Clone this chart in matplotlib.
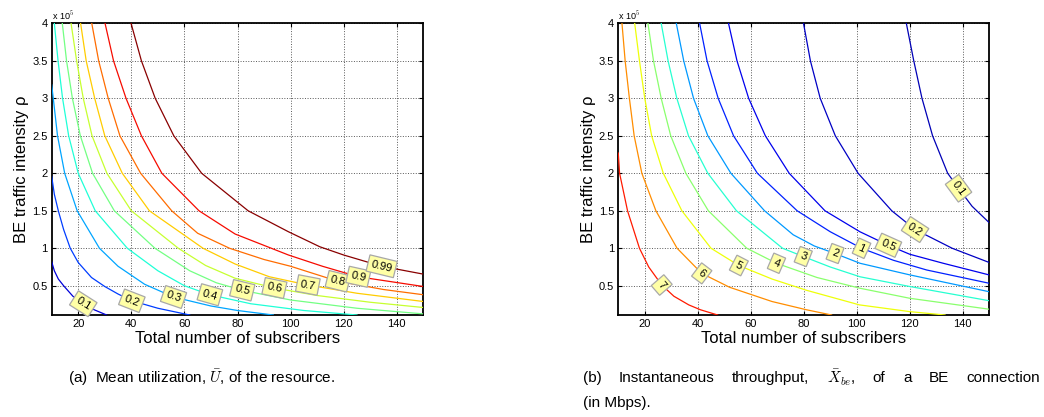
import numpy as np
import matplotlib
matplotlib.use('Agg')
import matplotlib.pyplot as plt
from matplotlib.colors import Normalize

plt.rcParams['font.family'] = ['Liberation Sans', 'DejaVu Sans']
plt.rcParams['mathtext.fontset'] = 'cm'

# (a) mean utilization, contour lines (y in units of 1e5)
util_levels = [0.1, 0.2, 0.3, 0.4, 0.5, 0.6, 0.7, 0.8, 0.9, 0.99]
u_010 = [(10, 0.82), (11, 0.70), (12.5, 0.59), (14.5, 0.50), (18, 0.36), (21.9, 0.26), (26, 0.18), (30.7, 0.11)]
u_020 = [(10, 1.96), (11, 1.72), (12.5, 1.50), (14.5, 1.25), (17, 1.0), (20, 0.81), (25, 0.61), (30, 0.49),
         (35, 0.39), (40.2, 0.30), (50, 0.20), (62, 0.11)]
u_030 = [(10, 3.18), (10.6, 3.0), (12.2, 2.5), (14.9, 2.0), (19.6, 1.5), (28, 1.0), (35, 0.76), (45, 0.52),
         (55.9, 0.35), (70, 0.23), (80, 0.17), (93.5, 0.11)]
u_040 = [(11, 4.0), (12.4, 3.5), (14.1, 3.0), (16.4, 2.5), (20.0, 2.0), (26.4, 1.5), (38.5, 1.0), (50, 0.70),
         (60, 0.50), (69.6, 0.38), (85, 0.26), (105, 0.17), (125, 0.11)]
u_050 = [(14, 4.0), (15.6, 3.5), (17.8, 3.0), (20.8, 2.5), (25.4, 2.0), (33.6, 1.5), (48.9, 1.0), (62, 0.70),
         (72, 0.54), (81.8, 0.44), (100, 0.31), (125, 0.20), (150, 0.125)]
u_060 = [(17.3, 4.0), (19.4, 3.5), (21.9, 3.0), (25.2, 2.5), (30.8, 2.0), (40.0, 1.5), (57.7, 1.0), (68, 0.77),
         (79.1, 0.60), (93.9, 0.47), (110, 0.37), (130, 0.28), (150, 0.21)]
u_070 = [(20.9, 4.0), (23.0, 3.5), (26.2, 3.0), (30.0, 2.5), (36.6, 2.0), (46.8, 1.5), (67, 1.0), (79.1, 0.79),
         (92, 0.62), (106.5, 0.51), (125, 0.40), (150, 0.29)]
u_080 = [(25.1, 4.0), (27.7, 3.5), (31.3, 3.0), (35.7, 2.5), (43.5, 2.0), (55.2, 1.5), (65, 1.2), (77, 1.0),
         (90, 0.85), (100, 0.76), (117.8, 0.56), (135, 0.45), (150, 0.38)]
u_090 = [(30.1, 4.0), (33.3, 3.5), (38.0, 3.0), (43.8, 2.5), (51.5, 2.0), (65.5, 1.5), (79.1, 1.19), (99.2, 0.91),
         (112, 0.76), (125.5, 0.62), (150, 0.49)]
u_099 = [(39.9, 4.0), (43.8, 3.5), (49.0, 3.0), (56.0, 2.5), (66.5, 2.0), (84, 1.5), (99.2, 1.22),
         (111, 1.02), (120, 0.91), (134.3, 0.76), (150, 0.655)]
util_curves = [u_010, u_020, u_030, u_040, u_050, u_060, u_070, u_080, u_090, u_099]
util_label_x = [21.9, 40.2, 55.9, 69.6, 81.8, 93.9, 106.5, 117.8, 125.5, 134.3]

# (b) instantaneous throughput of a BE connection (Mbps)
thr_levels = [7, 6, 5, 4, 3, 2, 1, 0.5, 0.2, 0.1]
t_7 = [(10, 2.27), (10.5, 2.0), (13.5, 1.5), (18, 1.0), (21.5, 0.75), (26.4, 0.51), (31, 0.36), (36.6, 0.245),
       (41, 0.18), (47.5, 0.11)]
t_6 = [(11.4, 4.0), (12.6, 3.5), (14.2, 3.0), (16.0, 2.5), (18.9, 2.0), (24.2, 1.5), (32.2, 1.0), (41.5, 0.665),
       (52, 0.48), (68, 0.29), (81, 0.18), (90.5, 0.11)]
t_5 = [(16.2, 4.0), (18.0, 3.5), (20.0, 3.0), (22.6, 2.5), (27.0, 2.0), (34.0, 1.5), (45, 1.0), (55.5, 0.77),
       (68, 0.59), (81, 0.44), (101, 0.245), (120, 0.155), (133.3, 0.11)]
t_4 = [(21.2, 4.0), (23.3, 3.5), (26.2, 3.0), (29.8, 2.5), (35.5, 2.0), (44.0, 1.5), (58.5, 1.0), (69.7, 0.80),
       (85, 0.61), (101.2, 0.467), (120, 0.333), (150, 0.187)]
t_3 = [(26.2, 4.0), (28.8, 3.5), (32.1, 3.0), (36.5, 2.5), (43.8, 2.0), (54.6, 1.5), (72, 1.0), (79.8, 0.89),
       (90, 0.75), (101.2, 0.62), (120, 0.49), (150, 0.30)]
t_2 = [(31.9, 4.0), (34.7, 3.5), (38.4, 3.0), (43.8, 2.5), (52.5, 2.0), (65.2, 1.5), (76, 1.18), (84, 1.03),
       (91.8, 0.93), (101.2, 0.80), (120, 0.645), (150, 0.42)]
t_1 = [(40.7, 4.0), (43.5, 3.5), (47.7, 3.0), (53.5, 2.5), (62.5, 2.0), (77.5, 1.5), (90, 1.22), (101.8, 1.0),
       (113.8, 0.84), (126.4, 0.71), (150, 0.533)]
t_05 = [(51.6, 4.0), (54.8, 3.5), (59.2, 3.0), (65.5, 2.5), (74.5, 2.0), (88, 1.5), (101.2, 1.22), (111.9, 1.04),
        (120, 0.92), (132.6, 0.80), (150, 0.644)]
t_02 = [(79.9, 4.0), (82.5, 3.5), (86.2, 3.0), (91.9, 2.5), (100.5, 2.0), (113.2, 1.5), (122, 1.25), (136, 1.0),
        (150, 0.81)]
t_01 = [(118.7, 4.0), (121.5, 3.5), (124.6, 3.0), (128.6, 2.5), (134.3, 2.0), (138.4, 1.8), (143.5, 1.56),
        (150, 1.34)]
thr_curves = [t_7, t_6, t_5, t_4, t_3, t_2, t_1, t_05, t_02, t_01]
thr_label_x = [26.4, 41.5, 55.5, 69.7, 79.8, 91.8, 101.8, 111.9, 122, 138.4]

x_ticks = [20, 40, 60, 80, 100, 120, 140]
y_ticks = [0.5, 1, 1.5, 2, 2.5, 3, 3.5, 4]

cap_size = 11


def setup_axes(ax):
    ax.set_xlim(10, 150)
    ax.set_ylim(0.11, 4)
    ax.set_xticks(x_ticks)
    ax.set_yticks(y_ticks)
    ax.set_yticklabels(['%g' % t for t in y_ticks])
    ax.tick_params(direction='in', top=True, right=True, labelsize=8, length=3, width=0.8, pad=3)
    ax.grid(True, linestyle=':', color='0.35', linewidth=0.7)
    for s in ax.spines.values():
        s.set_linewidth(1.3)
    ax.set_xlabel('Total number of subscribers', fontsize=12, labelpad=1)
    ax.set_ylabel('BE traffic intensity ρ', fontsize=12, labelpad=2)
    ax.text(0.0, 1.005, r'x 10$^{\mathsf{5}}$', transform=ax.transAxes, fontsize=6.5, va='bottom', ha='left')


def draw_curves(ax, curves, levels, label_x, norm):
    for pts, lev, lx in zip(curves, levels, label_x):
        xs, ys = np.array(pts, dtype=float).T
        ax.plot(xs, ys, color=plt.cm.jet(norm(lev)), lw=0.9, zorder=3)
        ly = np.interp(lx, xs, ys)
        p1 = ax.transData.transform((lx - 1.0, np.interp(lx - 1.0, xs, ys)))
        p2 = ax.transData.transform((lx + 1.0, np.interp(lx + 1.0, xs, ys)))
        ang = np.degrees(np.arctan2(p2[1] - p1[1], p2[0] - p1[0]))
        ax.text(lx, ly, '%g' % lev, rotation=ang, rotation_mode='anchor', ha='center', va='center',
                fontsize=8, zorder=5,
                bbox=dict(boxstyle='square,pad=0.3', fc='#ffffa6', ec='#a8a8a8', lw=0.9))


def justified_line(fig, words, x0, x1, y, size):
    # spread the words over the full line width, like the justified caption
    r = fig.canvas.get_renderer()
    texts = [fig.text(0, y, w, fontsize=size, va='center') for w in words]
    widths = [t.get_window_extent(r).width / fig.bbox.width for t in texts]
    gap = (x1 - x0 - sum(widths)) / (len(words) - 1)
    x = x0
    for t, w in zip(texts, widths):
        t.set_x(x)
        x += w + gap


fig = plt.figure(figsize=(10.44, 4.17), dpi=100)
ax1 = fig.add_axes([0.0495, 0.2446, 0.356, 0.6995])
ax2 = fig.add_axes([0.5922, 0.2446, 0.3554, 0.6995])
setup_axes(ax1)
setup_axes(ax2)

draw_curves(ax1, util_curves, util_levels, util_label_x, Normalize(0.02, 1.0))
draw_curves(ax2, thr_curves, thr_levels, thr_label_x, Normalize(-0.3, 8.0))

fig.text(0.065, 0.093, r'(a)  Mean utilization, $\bar{U}$, of the resource.', fontsize=cap_size, va='center')
justified_line(fig, ['(b)', 'Instantaneous', 'throughput,', r'$\bar{X}_{be}$,', 'of', 'a', 'BE', 'connection'],
               0.5584, 0.9962, 0.093, cap_size)
fig.text(0.5584, 0.034, '(in Mbps).', fontsize=cap_size, va='center')

fig.savefig('out.png', dpi=100)
